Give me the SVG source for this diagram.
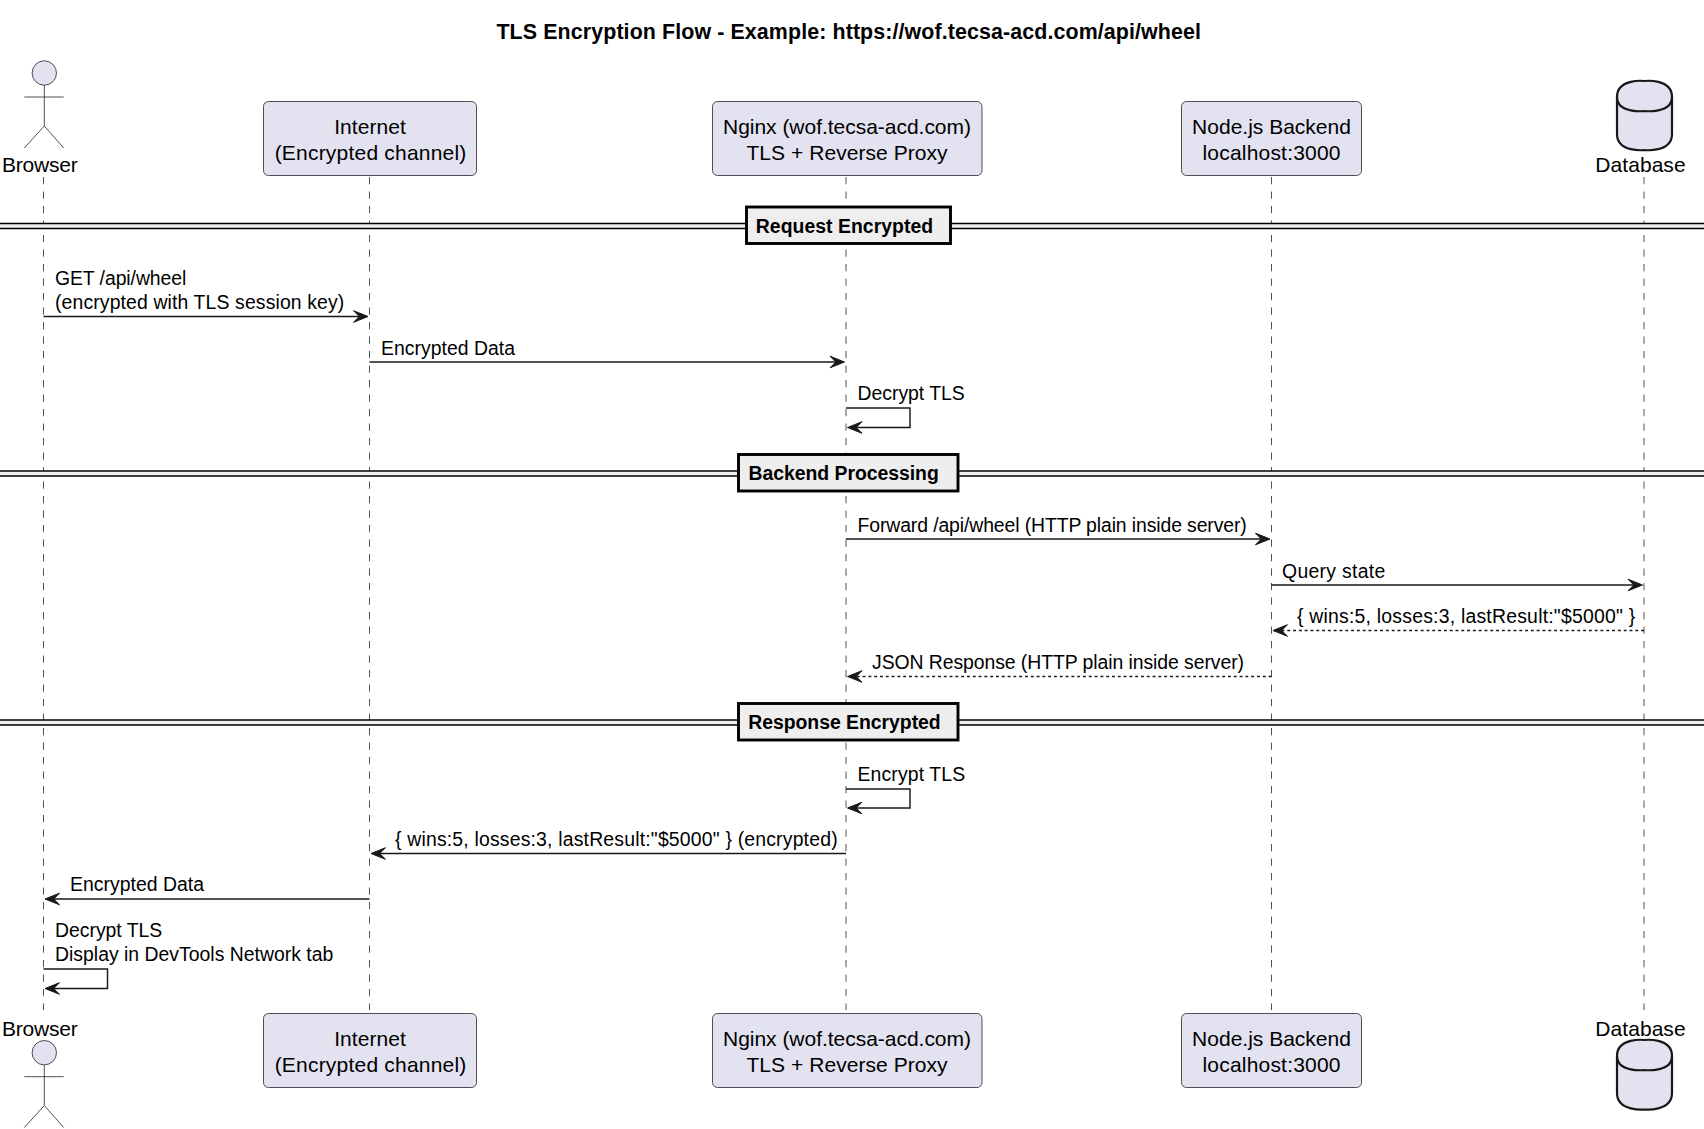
<svg xmlns="http://www.w3.org/2000/svg" width="1704" height="1129" viewBox="0 0 1704 1129">
<style>
text{font-family:"Liberation Sans",Arial,sans-serif;fill:#000}
.p{font-size:21px;text-anchor:middle}
.a{font-size:21px}
.m{font-size:19.4px}
.b{font-size:19.4px;font-weight:bold}
.t{font-size:21.4px;font-weight:bold;text-anchor:middle}
.box{fill:#E2E2F0;stroke:#181818;stroke-width:.75}
.life{stroke:#181818;stroke-width:.75;stroke-dasharray:7.25 7.25;fill:none}
.act{fill:#E2E2F0;stroke:#181818;stroke-width:.75}
.db{fill:#E2E2F0;stroke:#181818;stroke-width:2.2}
.msg{stroke:#181818;stroke-width:1.45;fill:none;marker-end:url(#ah)}
.ret{stroke-dasharray:2.9 2.9}
.dl{stroke:#000;stroke-width:1.45}
.dr{fill:#EEE;stroke:none}
.dbx{fill:#EEE;stroke:#000;stroke-width:2.9}
</style>
<defs>
<marker id="ah" markerUnits="userSpaceOnUse" markerWidth="20" markerHeight="18" refX="7.3" refY="8" orient="auto"><path d="M1.5 2.2L16 8L1.5 13.8L7.3 8Z" fill="#181818" stroke="#181818" stroke-width="1"/></marker>
</defs>
<rect width="1704" height="1129" fill="#fff"/>
<text class="t" x="848.7" y="39" textLength="704.5">TLS Encryption Flow - Example: https://wof.tecsa-acd.com/api/wheel</text>
<g id="lifelines">
<line class="life" x1="43.5" y1="177" x2="43.5" y2="1010"/>
<line class="life" x1="369.5" y1="177" x2="369.5" y2="1010"/>
<line class="life" x1="846" y1="177" x2="846" y2="1010"/>
<line class="life" x1="1271.5" y1="177" x2="1271.5" y2="1010"/>
<line class="life" x1="1644" y1="177" x2="1644" y2="1010"/>
</g>
<g id="dividers">
<g id="div1"><rect class="dr" x="0" y="223.5" width="1704" height="5"/><line class="dl" x1="0" y1="223.5" x2="1704" y2="223.5"/><line class="dl" x1="0" y1="228.5" x2="1704" y2="228.5"/><rect class="dbx" x="746.5" y="207" width="204" height="36.5"/><text class="b" x="755.8" y="232.5" textLength="177.3">Request Encrypted</text></g>
<g id="div2"><rect class="dr" x="0" y="471" width="1704" height="5"/><line class="dl" x1="0" y1="471" x2="1704" y2="471"/><line class="dl" x1="0" y1="476" x2="1704" y2="476"/><rect class="dbx" x="738.5" y="454.5" width="219.5" height="36.5"/><text class="b" x="748.5" y="480" textLength="190.3">Backend Processing</text></g>
<g id="div3"><rect class="dr" x="0" y="720" width="1704" height="5"/><line class="dl" x1="0" y1="720" x2="1704" y2="720"/><line class="dl" x1="0" y1="725" x2="1704" y2="725"/><rect class="dbx" x="738.5" y="703.5" width="219.5" height="36.5"/><text class="b" x="748.2" y="729" textLength="192.5">Response Encrypted</text></g>
</g>
<g id="connectors">
<line class="msg" x1="43.5" y1="316.5" x2="359.3" y2="316.5"/>
<line class="msg" x1="369.5" y1="362" x2="835.8" y2="362"/>
<path class="msg" d="M846 408H910V427.5H856.2"/>
<line class="msg" x1="846" y1="539" x2="1261.3" y2="539"/>
<line class="msg" x1="1271.5" y1="585" x2="1633.8" y2="585"/>
<line class="msg ret" x1="1644" y1="630.5" x2="1281.7" y2="630.5"/>
<line class="msg ret" x1="1271.5" y1="676.5" x2="856.2" y2="676.5"/>
<path class="msg" d="M846 789H910V808H856.2"/>
<line class="msg" x1="846" y1="853.5" x2="379.7" y2="853.5"/>
<line class="msg" x1="369.5" y1="899" x2="53.7" y2="899"/>
<path class="msg" d="M43.5 969H107.5V988.5H53.7"/>
</g>
<g id="labels">
<text class="m" x="55" y="284.5" textLength="131.3">GET /api/wheel</text>
<text class="m" x="55" y="309" textLength="289.3">(encrypted with TLS session key)</text>
<text class="m" x="381" y="354.5" textLength="134">Encrypted Data</text>
<text class="m" x="857.5" y="399.5" textLength="107.3">Decrypt TLS</text>
<text class="m" x="857.5" y="532" textLength="389.3">Forward /api/wheel (HTTP plain inside server)</text>
<text class="m" x="1282" y="577.5" textLength="103.3">Query state</text>
<text class="m" x="1297" y="623" textLength="338.2">{ wins:5, losses:3, lastResult:"$5000" }</text>
<text class="m" x="872" y="668.5" textLength="372">JSON Response (HTTP plain inside server)</text>
<text class="m" x="857.5" y="781" textLength="107.7">Encrypt TLS</text>
<text class="m" x="395" y="846" textLength="442.6">{ wins:5, losses:3, lastResult:"$5000" } (encrypted)</text>
<text class="m" x="70" y="891" textLength="134">Encrypted Data</text>
<text class="m" x="55" y="937" textLength="107.3">Decrypt TLS</text>
<text class="m" x="55" y="961" textLength="278.3">Display in DevTools Network tab</text>
</g>
<g id="browser-top">
<circle class="act" cx="44.3" cy="73" r="12.2"/>
<path class="act" d="M44.3 85.2V126M24.3 97H63.7M44.3 126L24.3 148M44.3 126L63.7 148" fill="none"/>
<text class="a" x="2" y="171.5" textLength="75.7">Browser</text>
</g>
<g id="internet-top"><rect class="box" x="263.5" y="101.5" width="213" height="74" rx="5"/><text class="p" x="370" y="134" textLength="71.7">Internet</text><text class="p" x="370.5" y="160" textLength="191.7">(Encrypted channel)</text></g>
<g id="nginx-top"><rect class="box" x="712.5" y="101.5" width="269.5" height="74" rx="5"/><text class="p" x="847" y="134" textLength="248">Nginx (wof.tecsa-acd.com)</text><text class="p" x="847" y="160" textLength="201">TLS + Reverse Proxy</text></g>
<g id="backend-top"><rect class="box" x="1181.5" y="101.5" width="180" height="74" rx="5"/><text class="p" x="1271.5" y="134" textLength="158.8">Node.js Backend</text><text class="p" x="1271.5" y="160" textLength="138">localhost:3000</text></g>
<g id="database-top">
<path class="db" d="M1617 97C1617 78 1644.5 81 1644.5 81C1644.5 81 1672 78 1672 97V134C1672 153 1644.5 150 1644.5 150C1644.5 150 1617 153 1617 134Z"/>
<path class="db" d="M1617 97C1617 114 1644.5 111 1644.5 111C1644.5 111 1672 114 1672 97" style="fill:none"/>
<text class="a" x="1595.3" y="171.5" textLength="90.3">Database</text>
</g>
<g id="browser-bottom">
<text class="a" x="2" y="1035.5" textLength="75.7">Browser</text>
<circle class="act" cx="44.3" cy="1052.7" r="12.2"/>
<path class="act" d="M44.3 1065V1105.5M24.3 1076.7H63.7M44.3 1105.5L24.3 1127.5M44.3 1105.5L63.7 1127.5" fill="none"/>
</g>
<g id="internet-bottom"><rect class="box" x="263.5" y="1013.5" width="213" height="74" rx="5"/><text class="p" x="370" y="1046" textLength="71.7">Internet</text><text class="p" x="370.5" y="1072" textLength="191.7">(Encrypted channel)</text></g>
<g id="nginx-bottom"><rect class="box" x="712.5" y="1013.5" width="269.5" height="74" rx="5"/><text class="p" x="847" y="1046" textLength="248">Nginx (wof.tecsa-acd.com)</text><text class="p" x="847" y="1072" textLength="201">TLS + Reverse Proxy</text></g>
<g id="backend-bottom"><rect class="box" x="1181.5" y="1013.5" width="180" height="74" rx="5"/><text class="p" x="1271.5" y="1046" textLength="158.8">Node.js Backend</text><text class="p" x="1271.5" y="1072" textLength="138">localhost:3000</text></g>
<g id="database-bottom">
<text class="a" x="1595.3" y="1035.5" textLength="90.3">Database</text>
<path class="db" d="M1617 1056C1617 1037 1644.5 1040 1644.5 1040C1644.5 1040 1672 1037 1672 1056V1093C1672 1112 1644.5 1109.5 1644.5 1109.5C1644.5 1109.5 1617 1112 1617 1093Z"/>
<path class="db" d="M1617 1056C1617 1073 1644.5 1070 1644.5 1070C1644.5 1070 1672 1073 1672 1056" style="fill:none"/>
</g>
</svg>
